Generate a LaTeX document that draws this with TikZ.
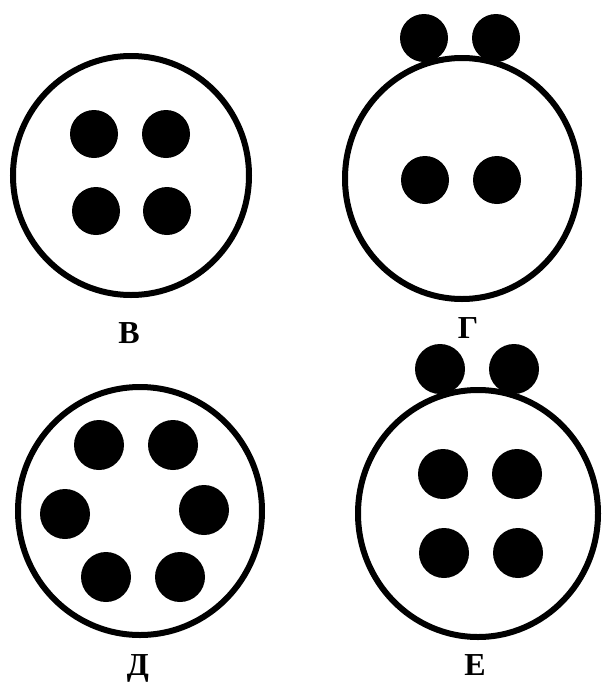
\documentclass[tikz,border=0pt]{standalone}
\usepackage{fontspec}
\setmainfont{Liberation Serif}
\begin{document}
\begin{tikzpicture}[x=1pt,y=-1pt,
  ring/.style={draw=black,line width=6pt},
  dot/.style={fill=black},
  lbl/.style={font=\fontsize{32}{36}\selectfont\bfseries,anchor=base,inner sep=0pt}]
\useasboundingbox (0,0) rectangle (602,683);
% B
\coordinate (cB) at (131,175.5);
\draw[ring] (cB) ellipse (118 and 119.5);
\foreach \p in {(94,134),(166,134),(96,211),(167,211)} \fill[dot] \p circle (24);
\node[lbl] (lB) at (129,343) {В};
% G
\coordinate (cG) at (462,178.5);
\draw[ring] (cG) ellipse (117 and 120.5);
\foreach \p in {(424,38),(496,38),(425,180),(497,180)} \fill[dot] \p circle (24);
\node[lbl] (lG) at (468,338) {Г};
% D
\coordinate (cD) at (140,511);
\draw[ring] (cD) ellipse (122 and 124);
\foreach \p in {(99,445),(173,445),(65,514),(204,510),(106,577),(180,577)} \fill[dot] \p circle (25);
\node[lbl] (lD) at (138,675) {Д};
% E
\coordinate (cE) at (478,513.5);
\draw[ring] (cE) ellipse (120 and 123.5);
\foreach \p in {(440,369),(514,369),(443,474),(517,474),(444,553),(518,553)} \fill[dot] \p circle (25);
\node[lbl] (lE) at (475,675) {Е};
\end{tikzpicture}
\end{document}
